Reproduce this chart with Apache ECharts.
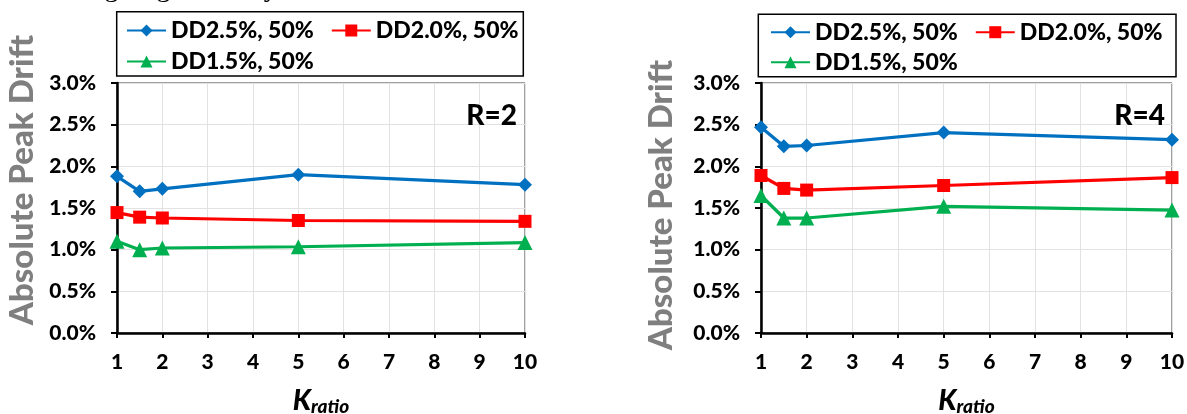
<!DOCTYPE html>
<html><head><meta charset="utf-8">
<script src="https://cdn.jsdelivr.net/npm/echarts@6/dist/echarts.min.js"></script>
<style>html,body{margin:0;padding:0;background:#fff}#c{width:1187px;height:414px}</style>
</head><body><div id="c"></div>
<script>
// ---- data ----
const kRatio = [1, 1.5, 2, 5, 10];
const seriesNames = ['DD2.5%, 50%', 'DD2.0%, 50%', 'DD1.5%, 50%'];
// R = 2 (left panel), absolute peak drift in %
const r2DD25 = [1.88, 1.70, 1.73, 1.90, 1.78];
const r2DD20 = [1.445, 1.39, 1.38, 1.35, 1.34];
const r2DD15 = [1.10, 1.00, 1.02, 1.035, 1.085];
// R = 4 (right panel)
const r4DD25 = [2.47, 2.24, 2.25, 2.405, 2.32];
const r4DD20 = [1.89, 1.735, 1.715, 1.77, 1.865];
const r4DD15 = [1.65, 1.38, 1.38, 1.52, 1.475];
const panelLabels = ['R=2', 'R=4'];
const yTitle = 'Absolute Peak Drift';
const xTitleMain = 'K';
const xTitleSub = 'ratio';
const topTextFragment = 'not change significantly.';

// ---- styles ----
const FONT = 'Lato';
const HEAVY = 900;
const colors = ['#0070C0', '#FF0000', '#00B050'];
const symbols = ['diamond', 'rect', 'triangle'];
const symSizes = [14, 13, 15];

const grids = [
  { left: 117, top: 83, width: 408, height: 250 },
  { left: 761, top: 83, width: 411, height: 250 }
];

function makeSeries(gi, arrays) {
  return arrays.map((arr, i) => ({
    name: seriesNames[i], type: 'line', xAxisIndex: gi, yAxisIndex: gi,
    data: kRatio.map((k, j) => [k, arr[j]]),
    symbol: symbols[i], symbolSize: symSizes[i],
    lineStyle: { color: colors[i], width: 3.25 },
    itemStyle: { color: colors[i] },
    clip: false, animation: false, z: 3 + i
  }));
}

const xAxes = grids.map((g, i) => ({
  type: 'value', gridIndex: i, min: 1, max: 10, interval: 1,
  axisLine: { onZero: false, lineStyle: { color: '#000', width: 2.5 } },
  axisTick: { show: true, length: 5, lineStyle: { color: '#000', width: 2 } },
  splitLine: { show: true, lineStyle: { color: '#e2e2e2', width: 1 } },
  axisLabel: { fontFamily: FONT, fontWeight: HEAVY, fontSize: 21, color: '#000', margin: 19 },
  name: '{k|' + xTitleMain + '}{s|' + xTitleSub + '}',
  nameLocation: 'middle', nameGap: 53,
  nameTextStyle: {
    rich: {
      k: { fontFamily: FONT, fontWeight: HEAVY, fontStyle: 'italic', fontSize: 28, color: '#000', lineHeight: 30 },
      s: { fontFamily: FONT, fontWeight: HEAVY, fontStyle: 'italic', fontSize: 19, color: '#000', lineHeight: 17, verticalAlign: 'bottom' }
    }
  }
}));

const yNameGaps = [78, 83];
const yNamePad = [[0, 0, 0, 56], [0, 0, 0, 6]];
const yAxes = grids.map((g, i) => ({
  type: 'value', gridIndex: i, min: 0, max: 3, interval: 0.5,
  axisLine: { show: true, onZero: false, lineStyle: { color: '#000', width: 2.5 } },
  axisTick: { show: true, length: 6, lineStyle: { color: '#000', width: 2 } },
  splitLine: { show: true, lineStyle: { color: '#e2e2e2', width: 1 } },
  axisLabel: { fontFamily: FONT, fontWeight: HEAVY, fontSize: 21, color: '#000', margin: 21,
    formatter: v => v.toFixed(1) + '%' },
  name: yTitle, nameLocation: 'middle', nameRotate: 90, nameGap: yNameGaps[i],
  nameTextStyle: { fontFamily: FONT, fontWeight: HEAVY, fontSize: 33, color: '#7f7f7f', padding: yNamePad[i] }
}));

const legendTextStyle = { fontFamily: FONT, fontWeight: HEAVY, fontSize: 23, color: '#000', lineHeight: 22 };
const legendRows = [
  { names: [seriesNames[0], seriesNames[1]], left: 126, top: 19 },
  { names: [seriesNames[2]], left: 126, top: 50 },
  { names: [seriesNames[0], seriesNames[1]], left: 770, top: 20.7 },
  { names: [seriesNames[2]], left: 770, top: 50.7 }
];
const legends = legendRows.map(r => ({
  data: r.names, left: r.left, top: r.top, padding: 0, orient: 'horizontal',
  itemWidth: 39, itemHeight: 15, itemGap: 17,
  textStyle: legendTextStyle, selectedMode: false
}));

const chart = echarts.init(document.getElementById('c'), null, { renderer: 'canvas' });
chart.setOption({
  animation: false,
  backgroundColor: '#fff',
  grid: grids.map(g => Object.assign({ show: true, borderColor: '#404040', borderWidth: 1, backgroundColor: 'transparent', containLabel: false, outerBoundsMode: 'none' }, g)),
  xAxis: xAxes,
  yAxis: yAxes,
  legend: legends,
  series: makeSeries(0, [r2DD25, r2DD20, r2DD15]).concat(makeSeries(1, [r4DD25, r4DD20, r4DD15])),
  graphic: [
    { type: 'rect', shape: { x: 116.7, y: 11.7, width: 406.6, height: 64.3 }, style: { fill: 'none', stroke: '#000', lineWidth: 1.5 }, z: 10 },
    { type: 'rect', shape: { x: 758.3, y: 14.3, width: 417.7, height: 62.4 }, style: { fill: 'none', stroke: '#000', lineWidth: 1.5 }, z: 10 },
    { type: 'text', x: 517, y: 116, style: { text: panelLabels[0], align: 'right', verticalAlign: 'middle', fill: '#000', font: '900 28px Lato' }, z: 10 },
    { type: 'text', x: 1165, y: 116, style: { text: panelLabels[1], align: 'right', verticalAlign: 'middle', fill: '#000', font: '900 28px Lato' }, z: 10 },
    { type: 'text', x: 283, y: -11, style: { text: topTextFragment, align: 'right', verticalAlign: 'middle', fill: '#000', font: '28px "Liberation Serif"' }, z: 10 }
  ]
});
</script>
</body></html>
